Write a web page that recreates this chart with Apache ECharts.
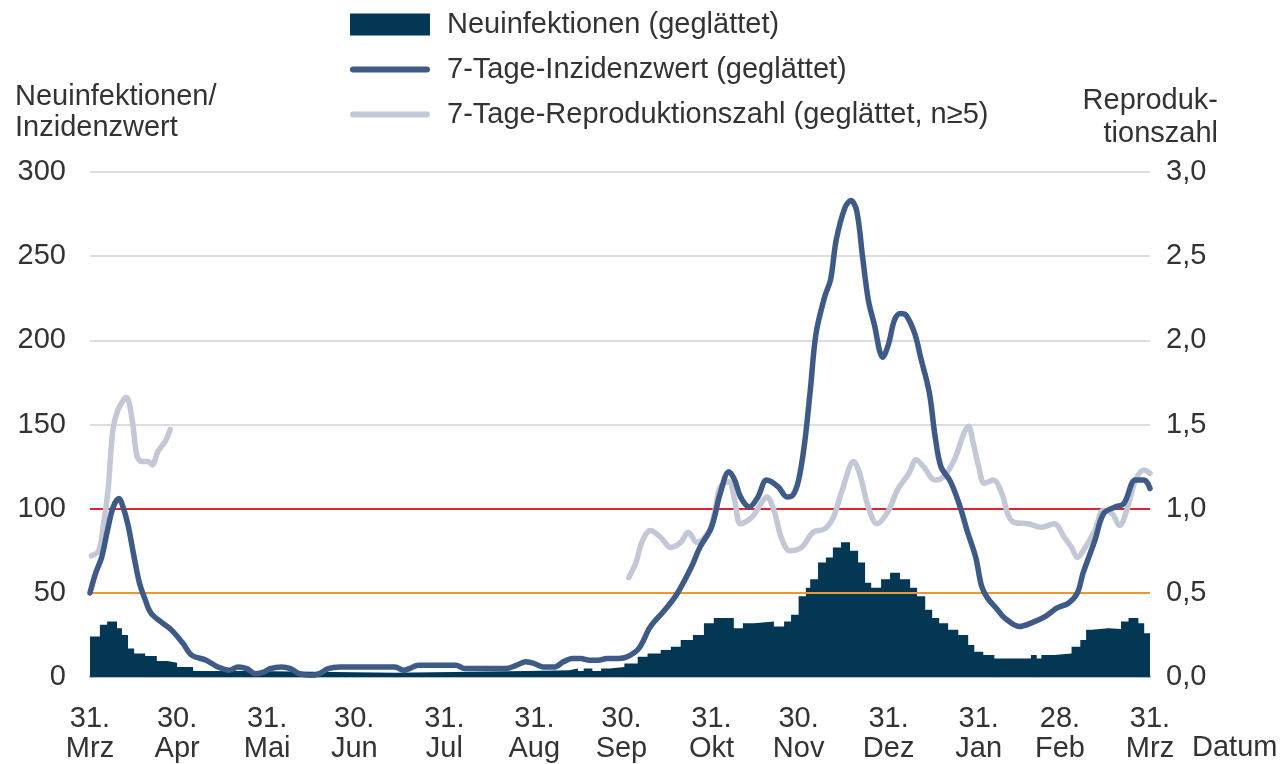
<!DOCTYPE html>
<html>
<head>
<meta charset="utf-8">
<script src="https://cdn.jsdelivr.net/npm/echarts@6/dist/echarts.min.js"></script>
<style>
  html, body { margin: 0; padding: 0; background: #fff; }
  #chart { width: 1282px; height: 764px; }
</style>
</head>
<body>
<div id="chart"></div>
<script>
  // x-Achse: Tage ab 31.03.2020
  const tickDays = [0, 30, 61, 91, 122, 153, 183, 214, 244, 275, 306, 334, 365];
  const tickDayText = ['31.', '30.', '31.', '30.', '31.', '31.', '30.', '31.', '30.', '31.', '31.', '28.', '31.'];
  const tickMonths = ['Mrz', 'Apr', 'Mai', 'Jun', 'Jul', 'Aug', 'Sep', 'Okt', 'Nov', 'Dez', 'Jan', 'Feb', 'Mrz'];

  // Neuinfektionen (geglättet), Stufen: [Tag, Wert]
  const neuinfektionen = [
    [0, 24], [3.4, 31], [5.9, 33], [9.3, 29], [11, 25], [13.1, 17], [15.2, 14], [19, 12.5], [23, 9.5],
    [26.6, 8.5], [30, 6], [35.5, 3.6], [56, 2.5], [105, 3], [125, 3.5], [150, 4], [165, 5], [168, 3.5],
    [170, 5], [173, 3.5], [176, 5], [179, 6], [184, 8], [188.6, 12], [192, 14], [196.5, 16], [200, 18],
    [203.4, 22], [207.6, 25], [211.4, 32], [214.8, 35], [221.7, 29], [224.8, 32], [228.6, 33], [235.5, 30],
    [239, 33], [241.4, 37], [244, 48], [246.5, 53], [248, 58], [250.7, 68], [253.4, 71], [255.8, 77],
    [258.6, 80], [261.7, 75], [264.5, 68], [266.9, 56], [269, 53], [272.4, 58], [275.5, 62], [278.9, 58],
    [282.4, 53], [284.8, 48], [287.6, 40], [290, 35], [292.4, 32], [295.5, 28], [299, 25], [302.4, 19],
    [304.5, 15], [307.6, 13], [311.4, 11], [324, 13], [326, 11], [327.6, 13], [332, 14], [338, 18],
    [341, 22], [343, 28], [345, 29], [350.7, 28.5], [355, 33], [357.6, 35], [361, 32], [363, 26], [365, 26]
  ];

  // 7-Tage-Inzidenzwert (geglättet): [Tag, Wert]
  const inzidenz = [
    [0, 50], [2, 62], [4, 71], [6, 87], [8, 101], [10, 106], [11, 103], [13, 91], [15, 73], [17, 56],
    [19, 46], [21, 38], [25, 32], [28, 28], [32, 20], [35, 13], [40, 10], [44, 6], [48, 4], [51, 6],
    [54, 5], [57, 2], [60, 3], [62, 5], [66, 6], [69, 5], [72, 2], [76, 1], [79, 2], [82, 5], [86, 6],
    [95, 6], [105, 6], [108, 4], [110, 5], [113, 7], [120, 7], [126, 7], [129, 5], [137, 5], [143, 5],
    [147, 7], [150, 9], [153, 8], [156, 6], [160, 6], [163, 9], [166, 11], [169, 11], [172, 10], [175, 10],
    [178, 11], [182, 11], [185, 12], [189, 17], [193, 30], [198, 40], [202, 49], [207, 65], [210, 77],
    [214, 89], [217, 109], [220, 122], [222, 117], [224, 107], [227, 101], [230, 107], [233, 117],
    [237, 113], [240, 107], [242, 108], [244, 117], [246, 138], [248, 170], [250, 204],
    [253, 226], [255, 236], [257, 260], [260, 279], [262, 283], [264, 277], [266, 250], [268, 224],
    [270, 210], [273, 190], [275, 198], [277, 212], [279, 216], [281, 215], [284, 204], [286, 190],
    [289, 169], [291, 143], [293, 125], [296, 117], [298, 109], [300, 99], [302, 87], [305, 71],
    [307, 54], [309, 47], [312, 41], [315, 35], [320, 30], [324, 32], [329, 36], [333, 41], [337, 44],
    [340, 50], [342, 62], [346, 81], [349, 97], [353, 101], [356, 103], [360, 117], [363, 117], [365, 112]
  ];

  // 7-Tage-Reproduktionszahl (geglättet, n>=5): [Tag, Wert], '-' = Lücke
  const reproduktion = [
    [0.5, 0.72], [3, 0.75], [4.5, 0.89], [6.2, 1.11], [7.9, 1.47], [9.7, 1.59], [12.5, 1.66], [14.5, 1.53],
    [16.2, 1.31], [17.9, 1.28], [20, 1.28], [21.4, 1.26], [23.4, 1.34], [25.9, 1.40], [27.6, 1.47],
    [28, '-'],
    [185.5, 0.59], [188, 0.68], [190, 0.80], [193, 0.87], [196.5, 0.83], [200, 0.77], [203.4, 0.80],
    [206, 0.86], [209, 0.80], [213, 0.86], [215, 0.97], [217, 1.13], [220, 1.16], [222, 1.05], [224, 0.91],
    [228, 0.95], [231, 1.03], [233, 1.07], [235.5, 0.99], [238, 0.83], [241, 0.75], [245, 0.77],
    [249, 0.86], [253, 0.88], [256, 0.95], [259, 1.11], [263, 1.28], [265, 1.21], [268, 1.01], [271, 0.91],
    [275, 0.99], [278, 1.11], [282, 1.21], [284.5, 1.29], [287, 1.25], [291, 1.17], [294, 1.19],
    [297.6, 1.29], [301, 1.45], [302.5, 1.49], [304, 1.40], [306, 1.25], [308, 1.15], [311, 1.17],
    [314, 1.09], [316, 0.97], [318, 0.92], [323, 0.91], [327.6, 0.89], [332, 0.91], [335.5, 0.83],
    [338, 0.77], [340, 0.71], [342, 0.75], [346, 0.87], [349, 0.99], [352, 0.97], [354.5, 0.90],
    [357, 0.99], [360, 1.17], [363, 1.23], [365, 1.21]
  ];

  const schwellen = [100, 50];

  const font = 'Liberation Sans, Arial, sans-serif';
  const textColor = '#333333';
  const fs = 29;

  // Legendensymbole: sichtbarer Teil 80px breit, unsichtbare Punkte spannen 92x22 auf
  const iconBox = ' M0,0h0.01v0.01h-0.01z M92,22h-0.01v-0.01h0.01z';
  const iconRect = 'path://M0,0H80V22H0Z' + iconBox;
  const iconLine = 'path://M3,8H77A3,3 0 0 1 77,14H3A3,3 0 0 1 3,8Z' + iconBox;

  const chart = echarts.init(document.getElementById('chart'));
  chart.setOption({
    animation: false,
    textStyle: { fontFamily: font, color: textColor },
    legend: {
      orient: 'vertical',
      left: 345,
      top: 5,
      padding: 5,
      itemWidth: 92,
      itemHeight: 22,
      itemGap: 16,
      textStyle: { fontFamily: font, fontSize: fs, color: textColor },
      data: [
        { name: 'Neuinfektionen (geglättet)', icon: iconRect },
        { name: '7-Tage-Inzidenzwert (geglättet)', icon: iconLine },
        { name: '7-Tage-Reproduktionszahl (geglättet, n≥5)', icon: iconLine }
      ]
    },
    grid: { left: 90, right: 132, top: 172, bottom: 87, containLabel: false, outerBoundsMode: 'none' },
    xAxis: {
      type: 'value',
      min: 0,
      max: 365,
      name: '\n\nDatum',
      nameLocation: 'end',
      nameGap: 42,
      nameMoveOverlap: false,
      nameTextStyle: { fontFamily: font, fontSize: fs, color: textColor, lineHeight: 71, align: 'left' },
      axisLine: { show: true, lineStyle: { color: '#a7bccb', width: 2 } },
      axisTick: { show: false },
      splitLine: { show: false },
      axisLabel: {
        customValues: tickDays,
        margin: 27,
        fontSize: fs,
        lineHeight: 30,
        color: textColor,
        formatter: function (value) {
          const i = tickDays.indexOf(value);
          return i < 0 ? '' : tickDayText[i] + '\n' + tickMonths[i];
        }
      }
    },
    yAxis: [
      {
        type: 'value',
        min: 0,
        max: 300,
        interval: 50,
        name: 'Neuinfektionen/\nInzidenzwert',
        nameLocation: 'end',
        nameGap: 29,
        nameTextStyle: { fontFamily: font, fontSize: fs, color: textColor, align: 'left', lineHeight: 31, padding: [0, 0, 0, -75] },
        axisLine: { show: false },
        axisTick: { show: false },
        axisLabel: { margin: 24, fontSize: fs, color: textColor },
        splitLine: { lineStyle: { color: '#dddddd', width: 2 } }
      },
      {
        type: 'value',
        min: 0,
        max: 3,
        interval: 0.5,
        name: 'Reproduk-\ntionszahl',
        nameLocation: 'end',
        nameGap: 22,
        nameTextStyle: { fontFamily: font, fontSize: fs, color: textColor, align: 'right', lineHeight: 33, padding: [0, -68, 0, 0] },
        axisLine: { show: false },
        axisTick: { show: false },
        axisLabel: {
          margin: 16,
          fontSize: fs,
          color: textColor,
          formatter: function (v) { return v.toFixed(1).replace('.', ','); }
        },
        splitLine: { show: false }
      }
    ],
    series: [
      {
        name: 'Neuinfektionen (geglättet)',
        type: 'line',
        step: 'end',
        yAxisIndex: 0,
        symbol: 'none',
        color: '#033754',
        lineStyle: { width: 0 },
        areaStyle: { color: '#033754', opacity: 1 },
        data: neuinfektionen,
        z: 2,
        markLine: {
          silent: true,
          symbol: 'none',
          z: 3,
          label: { show: false },
          data: [
            { yAxis: schwellen[0], lineStyle: { color: '#e0242c', width: 2, type: 'solid' } },
            { yAxis: schwellen[1], lineStyle: { color: '#e39a3b', width: 2, type: 'solid' } }
          ]
        }
      },
      {
        name: '7-Tage-Reproduktionszahl (geglättet, n≥5)',
        type: 'line',
        yAxisIndex: 1,
        smooth: 0.35,
        symbol: 'none',
        connectNulls: false,
        color: '#c3c8d7',
        lineStyle: { width: 5.5, color: '#c3c8d7', cap: 'round', join: 'round' },
        data: reproduktion,
        z: 4
      },
      {
        name: '7-Tage-Inzidenzwert (geglättet)',
        type: 'line',
        yAxisIndex: 0,
        smooth: 0.35,
        symbol: 'none',
        color: '#3e5a86',
        lineStyle: { width: 5.5, color: '#3e5a86', cap: 'round', join: 'round' },
        data: inzidenz,
        z: 5
      }
    ]
  });
</script>
</body>
</html>
